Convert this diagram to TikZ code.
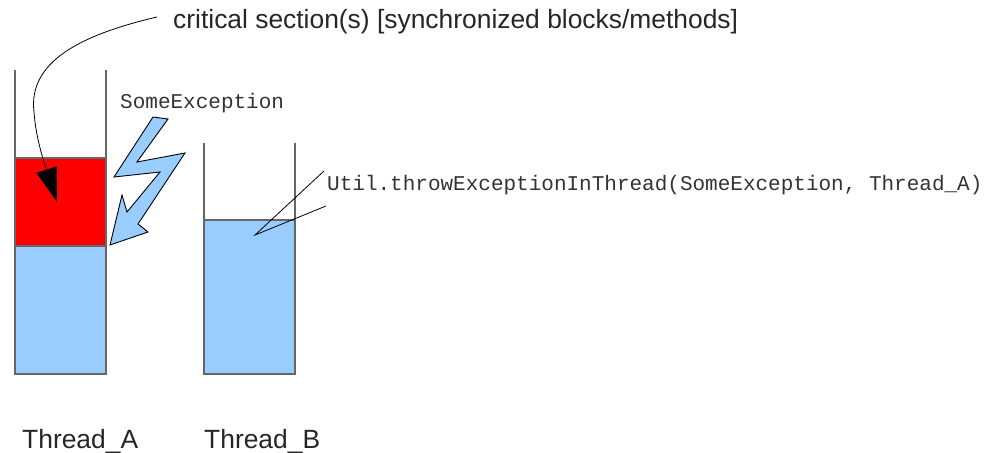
\documentclass[tikz,border=0pt]{standalone}
\usepackage{fontspec}
\setmainfont{Liberation Sans}
\newfontfamily\monofont{Liberation Mono}
\usetikzlibrary{arrows.meta}
\definecolor{fillblue}{HTML}{99CCFF}
\definecolor{fillred}{HTML}{FF0000}
\definecolor{wallgray}{HTML}{666666}
\tikzset{
  wall/.style={draw=wallgray, line width=1.1pt},
  stackpart/.style={draw=wallgray, line width=1.1pt, inner sep=0pt, outer sep=0pt, anchor=north west},
  sanslabel/.style={font=\fontsize{26.4}{30}\selectfont, text=black!85, inner sep=0pt, anchor=base west},
  monolabel/.style={font=\monofont\fontsize{21}{25}\selectfont, text=black!80, inner sep=0pt, anchor=base west},
  pointer/.style={draw=black, line width=0.8pt},
  bolt/.style={draw=black, line width=0.9pt, fill=fillblue, line join=miter},
}
\begin{document}
\begin{tikzpicture}[x=1pt,y=-1pt]
\useasboundingbox (0,0) rectangle (992,452);

% Thread A stack
\node[stackpart, fill=fillred, minimum width=91pt, minimum height=88pt] (csA) at (15,158) {};
\node[stackpart, fill=fillblue, minimum width=91pt, minimum height=128pt] (baseA) at (15,246) {};
\draw[wall] (15,70) -- (baseA.south west);
\draw[wall] (106,70) -- (baseA.south east);

% Thread B stack
\node[stackpart, fill=fillblue, minimum width=91pt, minimum height=154pt] (baseB) at (204,220) {};
\draw[wall] (204,143) -- (baseB.south west);
\draw[wall] (295,143) -- (baseB.south east);

% labels
\node[sanslabel] (crit) at (173,29) {critical section(s) [synchronized blocks/methods]};
\node[sanslabel] (labA) at (22,448) {Thread\_A};
\node[sanslabel] (labB) at (204,448) {Thread\_B};
\node[monolabel] (exc) at (120,108) {SomeException};
\node[monolabel] (util) at (327,190) {Util.throwExceptionInThread(SomeException, Thread\_A)};

% curved arrow from critical section label into red block
\coordinate (critstart) at (157,17);
\coordinate (critmid) at (34,112);
\coordinate (csTip) at (57,202);
\draw[pointer, -{Triangle[length=34pt,width=21pt]}]
  (critstart) .. controls (80,35) and (28,62) .. (critmid)
  .. controls (36,140) and (45,165) .. (csTip);

% pointer lines from call into Thread B
\coordinate (utilApex) at (255,235);
\coordinate (utilTop) at (324,171);
\coordinate (utilBot) at (326,206);
\draw[pointer] (utilTop) -- (utilApex) -- (utilBot);

% lightning bolt
\draw[bolt] (153,117) -- (168,119) -- (137,162) -- (185,153) -- (138,224)
  -- (148,232) -- (110,245) -- (122,195) -- (127,212) -- (160,172)
  -- (114,177) -- cycle;
\end{tikzpicture}
\end{document}
